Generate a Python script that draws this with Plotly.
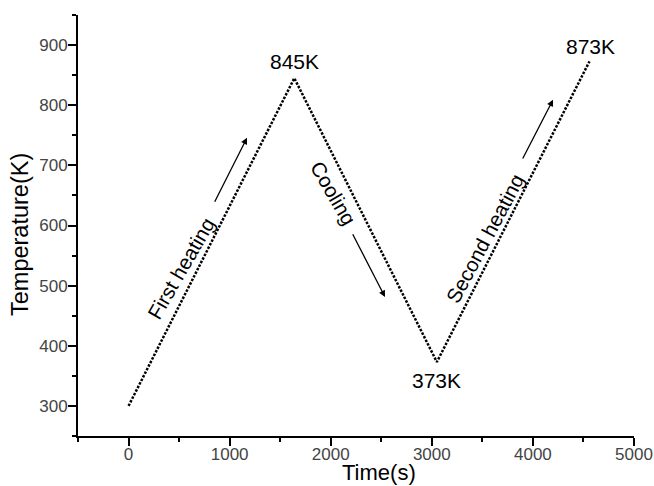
import plotly.graph_objects as go

# Data
time_s = [0, 1640, 3050, 4560]
temperature_k = [300, 845, 373, 873]

peak_labels = ["845K", "373K", "873K"]
peak_x = [1640, 3050, 4565]
peak_y = [872, 343, 898]

stage_labels = ["First heating", "Cooling", "Second heating"]
stage_x = [519, 2032, 3526]
stage_y = [528, 654, 578]
stage_angle = [-60, 60, -62]

arrow_tail_x = [845, 2210, 3892]
arrow_tail_y = [637, 588, 709]
arrow_head_x = [1172, 2537, 4199]
arrow_head_y = [746, 481, 809]

x_ticks = [0, 1000, 2000, 3000, 4000, 5000]
y_ticks = [300, 400, 500, 600, 700, 800, 900]

FONT = "Liberation Sans, Arial, sans-serif"

L, R, T, B = 78, 20, 15, 50
W, H = 654, 486
pw, ph = W - L - R, H - T - B

fig = go.Figure()
fig.add_trace(go.Scatter(
    x=time_s, y=temperature_k, mode="lines",
    line=dict(color="black", width=2.5, dash="2.5px,1.5px"),
    showlegend=False, hoverinfo="skip"))

annotations = []
for t, x, y in zip(peak_labels, peak_x, peak_y):
    annotations.append(dict(x=x, y=y, xref="x", yref="y", text=t, showarrow=False,
                            font=dict(family=FONT, size=21, color="black")))
for t, x, y, a in zip(stage_labels, stage_x, stage_y, stage_angle):
    annotations.append(dict(x=x, y=y, xref="x", yref="y", text=t, showarrow=False,
                            textangle=a, font=dict(family=FONT, size=20.5, color="black")))
for tx, ty, hx, hy in zip(arrow_tail_x, arrow_tail_y, arrow_head_x, arrow_head_y):
    annotations.append(dict(x=hx, y=hy, ax=tx, ay=ty, xref="x", yref="y",
                            axref="x", ayref="y", text="", showarrow=True,
                            arrowhead=2, arrowsize=1, arrowwidth=1.3, arrowcolor="black"))
# axis titles (placed in paper coords from pixel positions)
annotations.append(dict(x=(379 - L) / pw, y=(H - B - 472) / ph, xref="paper", yref="paper",
                        xanchor="center", yanchor="middle",
                        text="Time(s)", showarrow=False,
                        font=dict(family=FONT, size=22, color="black")))
annotations.append(dict(x=(20 - L) / pw, y=(H - B - 235) / ph, xref="paper", yref="paper",
                        xanchor="center", yanchor="middle",
                        text="Temperature(K)", showarrow=False, textangle=-90,
                        font=dict(family=FONT, size=23.5, color="black")))

axis_common = dict(
    showline=True, linecolor="black", linewidth=2, mirror=False,
    ticks="outside", ticklen=8, tickwidth=2, tickcolor="black",
    showgrid=False, zeroline=False,
    tickfont=dict(family=FONT, size=17, color="#444"),
)

fig.update_layout(
    width=W, height=H,
    margin=dict(l=L, r=R, t=T, b=B, autoexpand=False),
    paper_bgcolor="white", plot_bgcolor="white",
    xaxis=dict(range=[-500, 5000], tickvals=x_ticks, ticklabelstandoff=-6,
               minor=dict(ticks="outside", ticklen=4, tickwidth=2, tickcolor="black", dtick=500, tick0=0),
               **axis_common),
    yaxis=dict(range=[250, 950], tickvals=y_ticks, ticklabelstandoff=-3,
               minor=dict(ticks="outside", ticklen=4, tickwidth=2, tickcolor="black", dtick=50, tick0=0),
               **axis_common),
    annotations=annotations,
)

fig.write_html("out.html", config={"displayModeBar": False},
               post_script="document.body.style.margin='0';")
